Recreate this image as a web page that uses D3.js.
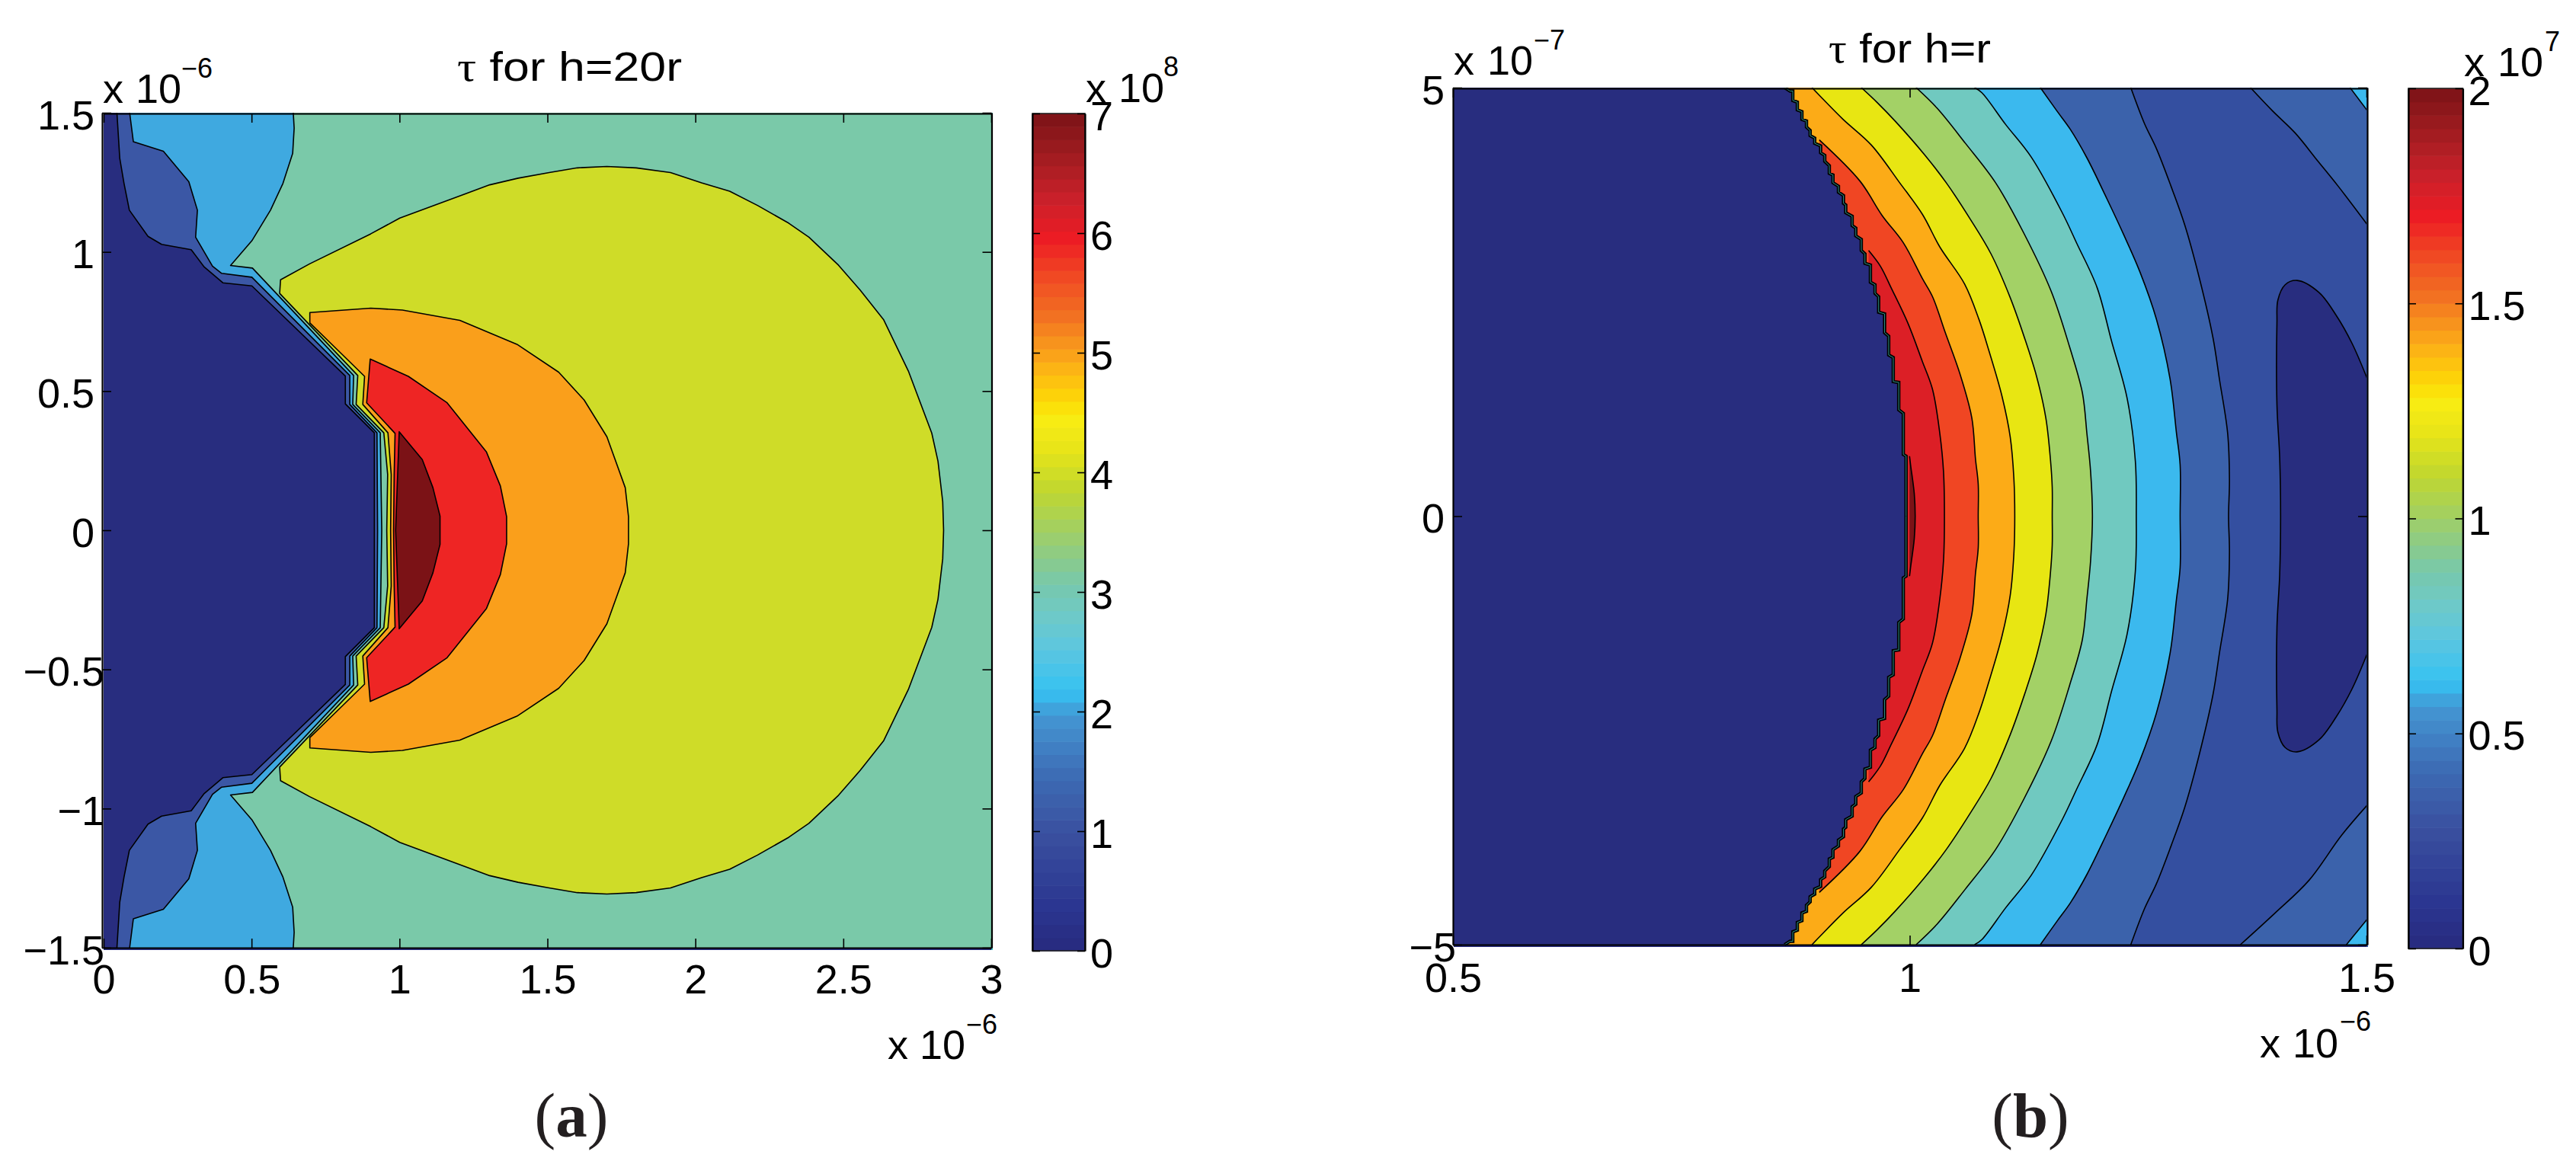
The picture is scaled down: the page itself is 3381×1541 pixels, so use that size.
<!DOCTYPE html>
<html><head><meta charset="utf-8">
<script src="https://cdn.jsdelivr.net/npm/d3@7"></script>
<style>html,body{margin:0;background:#fff}svg{display:block}text{font-family:"Liberation Sans",Arial,sans-serif;fill:#000}</style>
</head><body><svg id="c" width="3381" height="1541"></svg>
<script>
// ---------- colour map of the colour bars (position on bar, colour)
const cmapPos=[0,.05,.14,.21,.28,.31,.36,.40,.44,.50,.55,.60,.635,.655,.69,.72,.76,.80,.85,.90,.95,1];
const cmapCol=["#282a7e","#2a3590","#3a509f","#3d6cb5","#4496d3","#35c2f2","#5cc6e0","#6ec9c8","#78c8aa","#a0cf66","#c0d72f","#e8e518","#f8ec13","#fddb05","#fdb913","#f89a1c","#f26f22","#f04e23","#ed1c24","#c8202a","#a01c20","#7b1216"];
// ---------- panel (a): tick values, x in 1e-6, y in 1e-6, colour bar in 1e8
const aXTicks=[0,.5,1,1.5,2,2.5,3], aYTicks=[-1.5,-1,-.5,0,.5,1,1.5], aCbTicks=[0,1,2,3,4,5,6,7];
// upper half of each contour (lower half is its mirror image)
const aNavy=[[.045,1.5],[.0545,1.337],[.069,1.246],[.087,1.15],[.15,1.056],[.196,1.027],[.296,1.008],[.34,.946],[.403,.889],[.501,.878],[.817,.554],[.817,.454],[.915,.35],[.915,0]];
const aBlue=[[.088,1.5],[.1005,1.396],[.202,1.362],[.288,1.252],[.317,1.15],[.311,1.053],[.368,.949],[.399,.923],[.501,.909],[.832,.556],[.832,.452],[.924,.35],[.926,0]];
const aLight=[[.641,1.5],[.644,1.445],[.639,1.354],[.606,1.246],[.564,1.15],[.501,1.04],[.429,.951],[.503,.942],[.845,.556],[.842,.452],[.935,.35],[.94,0]];
const aYellow=[[.957,0],[.96,.2],[.947,.35],[.8535,.452],[.859,.556],[.595,.851],[.598,.9],[.696,.957],[.903,1.065],[1.001,1.1215],[1.305,1.241],[1.401,1.265],[1.506,1.285],[1.601,1.302],[1.701,1.307],[1.8,1.302],[1.916,1.285],[2.021,1.248],[2.116,1.218],[2.21,1.167],[2.316,1.103],[2.384,1.053],[2.484,.952],[2.557,.863],[2.636,.757],[2.72,.572],[2.799,.349],[2.82,.248],[2.836,.103],[2.839,0]];
const aOrange=[[.97,0],[.972,.2],[.961,.35],[.876,.452],[.882,.553],[.809,.629],[.697,.745],[.697,.782],[.903,.798],[1.01,.791],[1.204,.754],[1.397,.668],[1.538,.568],[1.624,.468],[1.701,.336],[1.763,.153],[1.774,.049],[1.774,0]];
const aRed=[[.98,0],[.982,.2],[.985,.348],[.889,.458],[.901,.615],[1.03,.553],[1.161,.458],[1.294,.281],[1.341,.159],[1.362,.049],[1.362,0]];
const aDark=[[.987,0],[.999,.354],[1.077,.254],[1.113,.153],[1.137,.051],[1.137,0]];
// ---------- panel (b): x in 1e-6, y in 1e-7, colour bar in 1e7
const bXTicks=[.5,1,1.5], bYTicks=[-5,0,5], bCbTicks=[0,.5,1,1.5,2];
const bStair=[[.863,5],[.869,4.96],[.872,4.96],[.872,4.85],[.877,4.83],[.877,4.74],[.882,4.72],[.882,4.63],[.887,4.61],[.887,4.54],[.891,4.5],[.891,4.44],[.896,4.41],[.896,4.35],[.9025,4.32],[.9025,4.24],[.907,4.21],[.907,4.14],[.912,4.09],[.912,4],[.916,3.98],[.916,3.89],[.922,3.85],[.922,3.78],[.9275,3.74],[.9275,3.65],[.93,3.63],[.93,3.54],[.937,3.5],[.937,3.39],[.941,3.36],[.941,3.27],[.947,3.23],[.947,3.1],[.951,3.06],[.951,2.95],[.957,2.93],[.957,2.73],[.962,2.7],[.962,2.6],[.966,2.56],[.966,2.38],[.9725,2.36],[.9725,2.14],[.977,2.1],[.977,1.88],[.982,1.85],[.982,1.57],[.988,1.56],[.988,1.24],[.993,1.2],[.993,.72],[.996,.7],[.996,0]];
const bOrangeRed=[[.901,4.39],[.9455,3.91],[.97,3.505],[.993,3.19],[1.014,2.77],[1.025,2.56],[1.039,2.14],[1.055,1.66],[1.068,1.146],[1.072,.667],[1.075,.372],[1.075,0]];
const bCrimson=[[.955,3.1],[.968,2.915],[.98,2.657],[.998,2.252],[1.0137,1.809],[1.025,1.478],[1.033,.961],[1.037,.519],[1.038,0]];
const bDarkest=[[.9998,.7],[1.001,.593],[1.005,.261],[1.006,0]];
const bYellow=[[.893,5],[.902,4.9],[.927,4.63],[.958,4.33],[.989,3.89],[1.014,3.52],[1.033,3.14],[1.06,2.71],[1.076,2.29],[1.087,1.92],[1.101,1.4],[1.11,.925],[1.114,.445],[1.115,0]];
const bGreen=[[.947,5],[.964,4.83],[.984,4.61],[1.016,4.22],[1.04,3.89],[1.066,3.47],[1.089,3.06],[1.11,2.55],[1.126,2.07],[1.139,1.625],[1.149,1.146],[1.154,.667],[1.156,.335],[1.156,0]];
const bTeal=[[1.007,5],[1.03,4.76],[1.061,4.35],[1.094,3.89],[1.125,3.3],[1.155,2.62],[1.175,1.975],[1.189,1.44],[1.194,.96],[1.198,.52],[1.2,0]];
const bLight=[[1.071,5],[1.079,4.94],[1.105,4.57],[1.133,4.19],[1.167,3.54],[1.183,3.18],[1.205,2.67],[1.221,2.04],[1.238,1.375],[1.247,.64],[1.248,0]];
const bBlue1=[[1.143,5],[1.161,4.73],[1.176,4.51],[1.194,4.18],[1.216,3.7],[1.234,3.29],[1.252,2.85],[1.27,2.3],[1.285,1.6],[1.292,.97],[1.296,.6],[1.296,0]];
const bBlue2=[[1.242,5],[1.257,4.58],[1.27,4.29],[1.286,3.85],[1.301,3.4],[1.317,2.78],[1.332,2.08],[1.339,1.6],[1.348,.97],[1.35,.42],[1.349,0]];
const bCornerBlueTop=[[1.373,5],[1.397,4.73],[1.422,4.47],[1.447,4.14],[1.469,3.85],[1.501,3.4]];
const bCornerBlueBot=[[1.362,-5],[1.4,-4.63],[1.437,-4.25],[1.473,-3.72],[1.501,-3.37]];
const bCornerLightTop=[[1.482,5],[1.501,4.73]];
const bCornerLightBot=[[1.478,-5],[1.501,-4.7]];
const bFinger=[[1.501,1.6],[1.484,2.02],[1.467,2.34],[1.448,2.61],[1.424,2.75],[1.411,2.7],[1.403,2.52],[1.402,2.26],[1.402,1.3],[1.405,.68],[1.406,0]];

const NAVY="#282d7f";
const svg=d3.select("#c");
const mirror=h=>{const back=h.slice().reverse().map(([x,y])=>[x,-y]);return h.concat(back[0][1]===0?back.slice(1):back);};
const FS=54;

function panel(o){
  const x=d3.scaleLinear().domain(o.xd).range(o.xr), y=d3.scaleLinear().domain(o.yd).range(o.yr);
  const lineL=d3.line().x(d=>x(d[0])).y(d=>y(d[1]));
  const lineC=o.smooth?d3.line().x(d=>x(d[0])).y(d=>y(d[1])).curve(d3.curveCatmullRom.alpha(.5)):lineL;
  const shape=l=>(l.straight?lineL:lineC)(l.path)+(l.tail||[]).map(p=>`L${x(p[0])},${y(p[1])}`).join("")+"Z";
  const defs=svg.append("defs");
  defs.append("clipPath").attr("id",o.id+"c").append("rect").attr("x",o.clip[0]).attr("y",o.clip[1]).attr("width",o.clip[2]-o.clip[0]).attr("height",o.clip[3]-o.clip[1]);
  defs.append("clipPath").attr("id",o.id+"s").append("rect").attr("x",o.clip[0]).attr("y",o.yr[0]).attr("width",o.clip[2]-o.clip[0]).attr("height",o.clip[3]-o.yr[0]);
  const g=svg.append("g").attr("id",o.id+"p");
  g.attr("clip-path",`url(#${o.id}c)`);
  const inner=g.append("g").attr("id",o.id+"i");
  inner.append("rect").attr("x",o.clip[0]).attr("y",o.clip[1]).attr("width",o.clip[2]-o.clip[0]).attr("height",o.clip[3]-o.clip[1]).attr("fill",o.bg);
  o.layers.forEach(l=>inner.append("path").attr("d",shape(l)).attr("fill",l.color));
  svg.insert("g",`#${o.id}p`).attr("clip-path",`url(#${o.id}s)`).append("use").attr("href",`#${o.id}i`).attr("transform","translate(0,3)");
  o.layers.forEach(l=>{ if(l.line!==false) g.append("path").attr("d",(l.straight?lineL:lineC)(l.path)+(l.closed?"Z":"")).attr("fill","none").attr("stroke","#000").attr("stroke-width",1.6).attr("stroke-linejoin","round"); });
  if(o.afterStroke) o.afterStroke(g,lineL);
  if(o.sliver) svg.append("rect").attr("x",o.xr[1]).attr("y",o.yr[1]).attr("width",o.clip[2]-o.xr[1]).attr("height",o.clip[3]-o.yr[1]).attr("fill",o.sliver);
  const style=s=>{s.attr("font-size",FS);s.selectAll("line").attr("stroke","#000").attr("stroke-width",1.6);s.select(".domain").attr("stroke","#000").attr("stroke-width",2.2);};
  const fmt=o.fmt;
  const gb=svg.append("g").attr("transform",`translate(0,${o.yr[0]})`).call(d3.axisBottom(x).tickValues(o.xt).tickSizeInner(-12).tickSizeOuter(0).tickFormat(fmt)).call(style);
  gb.selectAll("text").attr("y",o.xBase-o.yr[0]).attr("dy",0);
  svg.append("g").attr("transform",`translate(0,${o.yr[1]+1})`).call(d3.axisTop(x).tickValues(o.xt).tickSizeInner(-12).tickSizeOuter(0).tickFormat("")).call(style);
  const gl=svg.append("g").attr("transform",`translate(${o.frameL},0)`).call(d3.axisLeft(y).tickValues(o.yt).tickSizeInner(-12).tickSizeOuter(0).tickFormat(fmt)).call(style);
  gl.selectAll("text").attr("dy",21).attr("x",d=>d<0?o.negR-o.frameL:o.posR-o.frameL);
  svg.append("g").attr("transform",`translate(${o.frameR},0)`).call(d3.axisRight(y).tickValues(o.yt).tickSizeInner(-12).tickSizeOuter(0).tickFormat("")).call(style);
  const cy=d3.scaleLinear().domain(o.cbd).range(o.cbr);
  const cmap=d3.scaleLinear().domain(cmapPos).range(cmapCol);
  const steps=d3.range(64);
  const span=o.cbd[1]-o.cbd[0];
  svg.append("g").selectAll("rect").data(steps).join("rect")
    .attr("x",o.cbx[0]).attr("width",o.cbx[1]-o.cbx[0])
    .attr("y",i=>cy(o.cbd[0]+(i+1)/64*span)).attr("height",i=>cy(o.cbd[0]+i/64*span)-cy(o.cbd[0]+(i+1)/64*span)+.6)
    .attr("fill",i=>cmap((i+.5)/64));
  svg.append("rect").attr("x",o.cbx[0]).attr("y",o.cbr[1]).attr("width",o.cbx[1]-o.cbx[0]).attr("height",o.cbr[0]-o.cbr[1]).attr("fill","none").attr("stroke","#222").attr("stroke-width",1.6);
  const cb=svg.append("g").attr("transform",`translate(${o.cbx[1]},0)`).call(d3.axisRight(cy).tickValues(o.cbt).tickSizeInner(-10).tickSizeOuter(0).tickPadding(o.cbPad).tickFormat(fmt)).call(style);
  cb.selectAll("text").attr("dy",21);
  svg.append("g").attr("transform",`translate(${o.cbx[0]},0)`).call(d3.axisLeft(cy).tickValues(o.cbt).tickSizeInner(-10).tickSizeOuter(0).tickFormat("")).call(style);
  o.exps.forEach(e=>{
    svg.append("text").attr("x",e.x).attr("y",e.y).attr("font-size",FS).text("x");
    svg.append("text").attr("x",e.x10).attr("y",e.y).attr("font-size",FS).text("10");
    svg.append("text").attr("x",e.xs).attr("y",e.ys).attr("font-size",36).text(e.s);
  });
  const t=svg.append("text").attr("x",o.title.x).attr("y",o.title.y).attr("font-size",o.title.fs).attr("textLength",o.title.w).attr("lengthAdjust","spacingAndGlyphs");
  t.append("tspan").style("font-family",'"Liberation Serif"').text("τ");
  t.append("tspan").text(o.title.t);
  const c=svg.append("text").attr("x",o.cap.x).attr("y",1492).attr("text-anchor","middle").attr("font-size",83).style("font-family",'"Liberation Serif"').style("fill","#231f20");
  c.append("tspan").text("(");c.append("tspan").attr("font-weight","bold").text(o.cap.t);c.append("tspan").text(")");
}
const fmt=d=>(d<0?"−":"")+String(Math.abs(d));
const A=[[3,-1.5],[3,1.5]], B=[[1.5,-5],[1.5,5]];
panel({id:"a",xd:[0,3],xr:[136,1301],yd:[-1.5,1.5],yr:[1244,148],clip:[136,148,1303,1247],frameL:134,frameR:1301.5,bg:NAVY,sliver:"#3fc6c4",
  xt:aXTicks,yt:aYTicks,xBase:1304,negR:137,posR:124,fmt,
  layers:[
    {path:mirror(aNavy),tail:A,color:"#3b57a5"},
    {path:mirror(aBlue),tail:A,color:"#3fa9e0"},
    {path:mirror(aLight),tail:A,color:"#7ac9a9"},
    {path:mirror(aYellow),color:"#cfdc28",closed:true},
    {path:mirror(aOrange),color:"#fa9f1b",closed:true},
    {path:mirror(aRed),color:"#ee2524",closed:true},
    {path:mirror(aDark),color:"#7b1216",closed:true}],
  cbd:[0,7],cbr:[1248,149],cbx:[1355,1424],cbt:aCbTicks,cbPad:7,
  exps:[{x:135,x10:178,xs:238,y:135,ys:102,s:"−6"},{x:1165,x10:1207,xs:1268,y:1390,ys:1357,s:"−6"},{x:1425,x10:1468,xs:1527,y:134,ys:100,s:"8"}],
  title:{x:600,y:106,fs:54,w:295,t:" for h=20r"},cap:{x:750,t:"a"}});
panel({id:"b",smooth:true,xd:[.5,1.5],xr:[1907,3106],yd:[-5,5],yr:[1240,115],clip:[1908,115,3108,1243],frameL:1907,frameR:3107,bg:NAVY,sliver:"#3a5fa8",
  xt:bXTicks,yt:bYTicks,xBase:1302,negR:1911,posR:1896,fmt,
  layers:[
    {path:mirror(bStair),straight:true,tail:B,color:"#fcab17",line:false},
    {path:mirror(bYellow),tail:B,color:"#e8e612"},
    {path:mirror(bGreen),tail:B,color:"#a3d166"},
    {path:mirror(bTeal),tail:B,color:"#70c9c0"},
    {path:mirror(bLight),tail:B,color:"#3bb9ee"},
    {path:mirror(bBlue1),tail:B,color:"#3b62ab"},
    {path:mirror(bBlue2),tail:B,color:"#344fa0"},
    {path:bCornerBlueTop,tail:[[1.5,5]],color:"#3b62ab"},
    {path:bCornerBlueBot,tail:[[1.5,-5]],color:"#3b62ab"},
    {path:bCornerLightTop,tail:[[1.5,5]],color:"#3bb9ee"},
    {path:bCornerLightBot,tail:[[1.5,-5]],color:"#3bb9ee"},
    {path:mirror(bFinger),color:NAVY},
    {path:mirror(bOrangeRed),color:"#f04623"},
    {path:mirror(bCrimson),color:"#dc1f26"},
    {path:mirror(bDarkest),color:"#7b1216"},
    {path:mirror(bStair),straight:true,tail:[[.5,-5],[.5,5]],color:NAVY,line:false}],
  afterStroke:(g,line)=>{
    g.append("path").attr("d",line(mirror(bStair))).attr("fill","none").attr("stroke","#000").attr("stroke-width",4.4).attr("stroke-linejoin","miter");
    g.append("path").attr("d",line(mirror(bStair))).attr("fill","none").attr("stroke","#2f8f86").attr("stroke-width",1);
  },
  cbd:[0,2],cbr:[1245,116],cbx:[3161,3232.5],cbt:bCbTicks,cbPad:7,
  exps:[{x:1908,x10:1952,xs:2013,y:98,ys:65,s:"−7"},{x:2966,x10:3009,xs:3071,y:1388,ys:1353,s:"−6"},{x:3234,x10:3278,xs:3340,y:100,ys:67,s:"7"}],
  title:{x:2400,y:82,fs:54,w:213,t:" for h=r"},cap:{x:2665,t:"b"}});
</script></body></html>
